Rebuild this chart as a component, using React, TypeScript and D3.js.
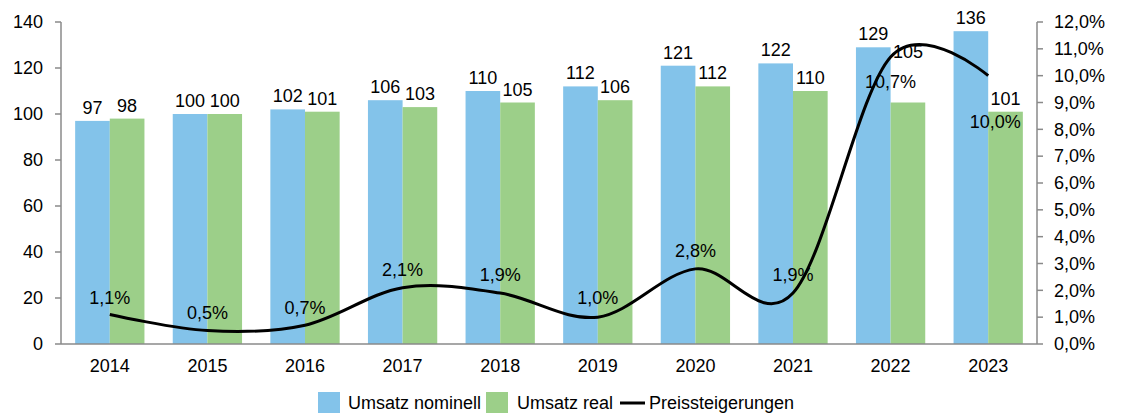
import React from 'react';
import * as d3 from 'd3';

const years = ['2014', '2015', '2016', '2017', '2018', '2019', '2020', '2021', '2022', '2023'];
const nominal = [97, 100, 102, 106, 110, 112, 121, 122, 129, 136];
const real = [98, 100, 101, 103, 105, 106, 112, 110, 105, 101];
const inflation = [1.1, 0.5, 0.7, 2.1, 1.9, 1.0, 2.8, 1.9, 10.7, 10.0];
// vertical offsets of labels that were moved by hand in the original
const realLabelDy = [0, 0, 0, 0, 0, 0, 0, 0, -38, 0];
const inflationLabelDy = [-17, -18, -18, -18, -18, -19, -18, -18, 25, 46];

const leftTicks = [0, 20, 40, 60, 80, 100, 120, 140];
const rightTicks = [0, 1, 2, 3, 4, 5, 6, 7, 8, 9, 10, 11, 12];

const BLUE = '#83C3EA';
const GREEN = '#9CCF89';
const AXIS = '#8a8a8a';
const FONT = 'Liberation Sans, Arial, sans-serif';

const W = 1121;
const H = 415;
const m = { left: 61, right: 84, top: 22, bottom: 71 };

const fmtPct = (v: number) => v.toFixed(1).replace('.', ',') + '%';

export default function App() {
  const x = d3.scaleBand().domain(years).range([m.left, W - m.right]).paddingInner(0.29).paddingOuter(0.145);
  const xc = (y: string) => (x(y) as number) + x.bandwidth() / 2;
  const yL = d3.scaleLinear().domain([0, 140]).range([H - m.bottom, m.top]);
  const yR = d3.scaleLinear().domain([0, 12]).range([H - m.bottom, m.top]);
  const bw = x.bandwidth() / 2;

  const line = d3.line<number>()
    .x((_, i) => xc(years[i]))
    .y(d => yR(d))
    .curve(d3.curveCatmullRom.alpha(0));

  const base = yL(0);

  return (
    <svg width={W} height={H} style={{ position: 'absolute', left: 0, top: 0 }} fontFamily={FONT}>
      {/* bars */}
      {years.map((yr, i) => (
        <g key={yr}>
          <rect x={x(yr)} y={yL(nominal[i])} width={bw} height={base - yL(nominal[i])} fill={BLUE} />
          <rect x={(x(yr) as number) + bw} y={yL(real[i])} width={bw} height={base - yL(real[i])} fill={GREEN} />
          <text x={(x(yr) as number) + bw / 2} y={yL(nominal[i]) - 7} textAnchor="middle" fontSize={18}>{nominal[i]}</text>
          <text x={(x(yr) as number) + bw * 1.5} y={yL(real[i]) - 7 + realLabelDy[i]} textAnchor="middle" fontSize={18}>{real[i]}</text>
        </g>
      ))}

      {/* line */}
      <path d={line(inflation) || ''} fill="none" stroke="#000" strokeWidth={3} />
      {inflation.map((v, i) => (
        <text key={i} x={xc(years[i]) + (i === 9 ? 7 : 0)} y={yR(v) + inflationLabelDy[i]} dy="0.35em" textAnchor="middle" fontSize={18}>{fmtPct(v)}</text>
      ))}

      {/* left axis */}
      <line x1={m.left} x2={m.left} y1={m.top} y2={base} stroke={AXIS} strokeWidth={1.5} />
      {leftTicks.map(t => (
        <g key={t}>
          <line x1={m.left - 6} x2={m.left} y1={yL(t)} y2={yL(t)} stroke={AXIS} strokeWidth={1.5} />
          <text x={m.left - 18} y={yL(t)} dy="0.35em" textAnchor="end" fontSize={18}>{t}</text>
        </g>
      ))}

      {/* right axis */}
      <line x1={W - m.right} x2={W - m.right} y1={m.top} y2={base} stroke={AXIS} strokeWidth={1.5} />
      {rightTicks.map(t => (
        <g key={t}>
          <line x1={W - m.right} x2={W - m.right + 6} y1={yR(t)} y2={yR(t)} stroke={AXIS} strokeWidth={1.5} />
          <text x={W - m.right + 17} y={yR(t)} dy="0.35em" textAnchor="start" fontSize={18}>{fmtPct(t)}</text>
        </g>
      ))}

      {/* x axis */}
      <line x1={m.left} x2={W - m.right} y1={base} y2={base} stroke={AXIS} strokeWidth={1.5} />
      {years.map(yr => (
        <text key={yr} x={xc(yr)} y={base + 22} dy="0.35em" textAnchor="middle" fontSize={18}>{yr}</text>
      ))}

      {/* legend */}
      <g transform="translate(318,392)">
        <rect x={0} y={0} width={22} height={21} fill={BLUE} />
        <text x={30} y={11} dy="0.35em" fontSize={18}>Umsatz nominell</text>
        <rect x={168} y={0} width={22} height={21} fill={GREEN} />
        <text x={199} y={11} dy="0.35em" fontSize={18}>Umsatz real</text>
        <line x1={302} x2={327} y1={11} y2={11} stroke="#000" strokeWidth={3} />
        <text x={331} y={11} dy="0.35em" fontSize={18}>Preissteigerungen</text>
      </g>
    </svg>
  );
}
